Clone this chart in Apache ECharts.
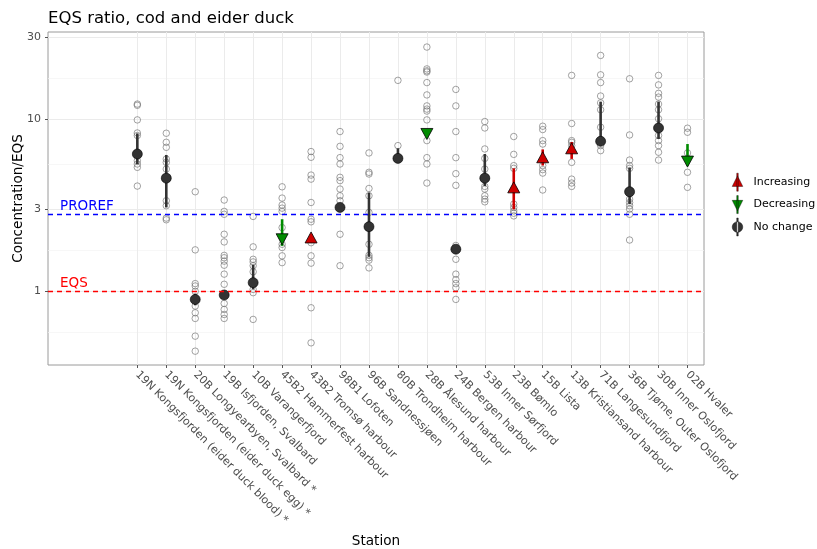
<!DOCTYPE html>
<html>
<head>
<meta charset="utf-8">
<script src="https://cdn.jsdelivr.net/npm/echarts@6/dist/echarts.min.js"></script>
<style>
  html, body { margin: 0; padding: 0; background: #ffffff; }
  #chart { width: 817px; height: 549px; }
</style>
</head>
<body>
<div id="chart"></div>
<script>
// Stations along the x axis (left to right)
const stations = [
  "19N Kongsfjorden (eider duck blood) *",
  "19N Kongsfjorden (eider duck egg) *",
  "20B Longyearbyen, Svalbard *",
  "19B Isfjorden, Svalbard",
  "10B Varangerfjord",
  "45B2 Hammerfest harbour",
  "43B2 Tromsø harbour",
  "98B1 Lofoten",
  "96B Sandnessjøen",
  "80B Trondheim harbour",
  "28B Ålesund harbour",
  "24B Bergen harbour",
  "53B Inner Sørfjord",
  "23B Bømlo",
  "15B Lista",
  "13B Kristiansand harbour",
  "71B Langesundfjord",
  "36B Tjøme, Outer Oslofjord",
  "30B Inner Oslofjord",
  "02B Hvaler"
];

// Individual concentration/EQS ratios per station (one list per station)
const sampleValues = [
  [12.3, 12.1, 9.95, 8.35, 8.07, 5.76, 5.51, 5.27, 4.10],
  [8.32, 7.37, 6.89, 5.89, 5.63, 5.15, 3.37, 3.15, 2.67, 2.61],
  [3.80, 1.744, 1.11, 1.075, 1.0, 0.822, 0.751, 0.696, 0.549, 0.449],
  [3.40, 2.92, 2.81, 2.15, 1.94, 1.62, 1.57, 1.50, 1.42, 1.26, 1.10, 0.851, 0.785, 0.734, 0.696],
  [2.73, 1.816, 1.537, 1.484, 1.41, 1.30, 1.027, 0.983, 0.687],
  [4.06, 3.49, 3.18, 3.05, 2.92, 2.35, 2.06, 1.88, 1.80, 1.61, 1.47],
  [6.51, 6.03, 4.75, 4.50, 3.29, 2.63, 2.54, 1.92, 1.61, 1.46, 0.803, 0.502],
  [8.51, 6.98, 6.00, 5.51, 4.61, 4.41, 3.94, 3.60, 3.37, 2.15, 1.41],
  [6.39, 4.93, 4.82, 3.97, 3.60, 2.88, 1.88, 1.62, 1.57, 1.52, 1.37],
  [16.9, 7.05],
  [26.4, 19.7, 19.2, 18.9, 16.4, 13.9, 12.0, 11.5, 11.2, 9.95, 7.54, 6.00, 5.51, 4.27],
  [14.96, 12.0, 8.51, 6.00, 4.84, 4.14, 1.85, 1.537, 1.26, 1.17, 1.11, 1.05, 0.898],
  [9.73, 8.93, 6.74, 5.94, 5.15, 4.08, 3.94, 3.60, 3.44, 3.32],
  [7.96, 6.27, 5.39, 5.20, 3.22, 3.08, 2.94, 2.85, 2.75],
  [9.14, 8.74, 7.54, 7.20, 5.39, 5.11, 4.88, 3.89],
  [18.06, 9.48, 7.54, 7.37, 7.05, 5.63, 4.50, 4.27, 4.08],
  [23.6, 18.2, 16.4, 13.7, 12.5, 11.4, 9.02, 7.05, 6.59],
  [17.26, 8.13, 5.81, 5.39, 5.20, 3.44, 3.29, 3.15, 3.01, 2.81, 1.99],
  [18.06, 15.9, 14.2, 13.5, 12.3, 11.4, 10.1, 8.07, 7.54, 7.05, 6.45, 5.81],
  [8.90, 8.43, 6.39, 4.93, 4.03]
];

// Summary value and its range per station, plus the trend class
const meanValues  = [6.30, 4.56, 0.898, 0.953, 1.124, 2.01, 2.06, 3.08, 2.38, 5.94, 8.24, 1.76, 4.56, 4.03, 6.03, 6.80, 7.47, 3.80, 8.93, 5.69];
const lowerValues = [5.50, 3.08, 0.83, 0.93, 1.03, 1.84, 1.95, 2.95, 1.59, 5.80, 8.00, 1.70, 4.10, 3.00, 5.40, 5.90, 7.05, 3.22, 7.70, 5.40];
const upperValues = [8.30, 6.22, 0.97, 0.98, 1.43, 2.63, 2.15, 3.20, 3.75, 6.80, 8.50, 1.82, 6.30, 5.20, 6.70, 7.40, 12.7, 5.26, 12.7, 7.20];
const trends = [
  "No change", "No change", "No change", "No change", "No change",
  "Decreasing", "Increasing", "No change", "No change", "No change",
  "Decreasing", "No change", "No change", "Increasing", "Increasing",
  "Increasing", "No change", "No change", "No change", "Decreasing"
];

// Axis breaks and reference levels
const yTickValues = [1, 3, 10, 30];
const yMinorValues = [0.5774, 1.732, 5.477, 17.32];
const prorefLevel = 2.8;
const eqsLevel = 1;

const FONT = "DejaVu Sans";
const trendColors = { "Increasing": "#CD0000", "Decreasing": "#008B00", "No change": "#333333" };
const trendSymbols = {
  "Increasing": "path://M5,0L10,9L0,9Z",
  "Decreasing": "path://M0,0L10,0L5,9Z",
  "No change": "circle"
};
const legendIcons = {
  "Increasing": "path://M4.3,0H5.7V17H4.3Z M5,2.5L10,12.5H0Z",
  "Decreasing": "path://M4.3,0H5.7V17H4.3Z M0,4.5H10L5,14.5Z",
  "No change": "path://M4.3,0H5.7V17H4.3Z M0,8.5A5,5 0 1,0 10,8.5A5,5 0 1,0 0,8.5Z"
};

const stationIdx = stations.map((_, i) => i);
const pointData = [];
sampleValues.forEach((vals, i) => vals.forEach(v => pointData.push([i, v])));

const meanData = trend => stationIdx.filter(i => trends[i] === trend).map(i => [i, meanValues[i]]);
const rangeData = trend => stationIdx.filter(i => trends[i] === trend).map(i => [i, lowerValues[i], upperValues[i]]);

function rangeSeries(trend) {
  return {
    type: "custom",
    name: trend + " range",
    data: rangeData(trend),
    encode: { x: 0, y: [1, 2] },
    z: 3,
    silent: true,
    renderItem(params, api) {
      const lo = api.coord([api.value(0), api.value(1)]);
      const hi = api.coord([api.value(0), api.value(2)]);
      return {
        type: "line",
        shape: { x1: lo[0], y1: lo[1], x2: hi[0], y2: hi[1] },
        style: { stroke: trendColors[trend], lineWidth: 2.6 }
      };
    }
  };
}

function meanSeries(trend) {
  const isCircle = trend === "No change";
  return {
    type: "scatter",
    name: trend,
    data: meanData(trend),
    symbol: trendSymbols[trend],
    symbolSize: isCircle ? 10 : [12, 11],
    z: 4,
    itemStyle: { color: trendColors[trend], borderColor: "#000000", borderWidth: isCircle ? 0.6 : 0.8, opacity: 1 }
  };
}

const chart = echarts.init(document.getElementById("chart"), null, { renderer: "canvas" });

chart.setOption({
  animation: false,
  backgroundColor: "#ffffff",
  title: {
    text: "EQS ratio, cod and eider duck",
    left: 43, top: 5,
    textStyle: { fontFamily: FONT, fontSize: 16.5, fontWeight: "normal", color: "#000000" }
  },
  grid: {
    left: 48, right: 113, top: 32, bottom: 184,
    outerBoundsMode: "none",
    containLabel: false,
    show: true, borderColor: "#9a9a9a", borderWidth: 1, backgroundColor: "transparent"
  },
  legend: {
    orient: "vertical",
    left: 727, top: 168,
    itemWidth: 14, itemHeight: 18, itemGap: 4,
    textStyle: { fontFamily: FONT, fontSize: 11, color: "#000000", padding: [0, 0, 0, 4] },
    data: ["Increasing", "Decreasing", "No change"].map(t => ({
      name: t, icon: legendIcons[t],
      itemStyle: { color: trendColors[t], borderColor: "#000000", borderWidth: 0.4 }
    }))
  },
  xAxis: {
    type: "value",
    min: -3.085, max: 19.57,
    name: "Station",
    nameLocation: "middle",
    nameGap: 169,
    nameTextStyle: { fontFamily: FONT, fontSize: 13.6, color: "#000000" },
    axisLine: { show: false, onZero: false },
    axisTick: { show: true, length: 3, lineStyle: { color: "#555555" }, customValues: stationIdx },
    axisLabel: {
      customValues: stationIdx,
      formatter: v => stations[Math.round(v)] || "",
      rotate: -45, margin: 8,
      fontFamily: FONT, fontSize: 11, color: "#4d4d4d"
    },
    splitLine: { show: true, lineStyle: { color: "#ebebeb", width: 1 } }
  },
  yAxis: [
    {
      type: "log",
      min: 0.373, max: 32.3,
      axisLine: { show: false, onZero: false },
      axisTick: { show: true, length: 3, lineStyle: { color: "#555555" }, customValues: yTickValues },
      axisLabel: { customValues: yTickValues, margin: 7, fontFamily: FONT, fontSize: 11, color: "#4d4d4d" },
      splitLine: { show: true, lineStyle: { color: "#ebebeb", width: 1 } },
      minorSplitLine: { show: false }
    },
    {
      // minor grid lines, also carries the axis title
      type: "log",
      min: 0.373, max: 32.3,
      position: "left",
      name: "Concentration/EQS",
      nameLocation: "middle",
      nameGap: 23,
      nameRotate: 90,
      nameTextStyle: { fontFamily: FONT, fontSize: 13.6, color: "#000000" },
      axisLine: { show: false, onZero: false },
      axisTick: { show: false, customValues: yMinorValues },
      axisLabel: { show: false, customValues: yMinorValues },
      splitLine: { show: true, lineStyle: { color: "#f3f3f3", width: 0.7 } }
    }
  ],
  series: [
    {
      type: "scatter",
      name: "Samples",
      data: pointData,
      symbol: "circle",
      symbolSize: 6.5,
      z: 2,
      itemStyle: { color: "rgba(255,255,255,0)", borderColor: "rgba(110,110,110,0.8)", borderWidth: 1 },
      markLine: {
        silent: true,
        symbol: "none",
        data: [
          {
            yAxis: prorefLevel,
            lineStyle: { color: "#0000ff", type: [5, 4], width: 1.3 },
            label: { formatter: "PROREF", color: "#0000ff", position: "insideStartTop", distance: [12, 1], fontFamily: FONT, fontSize: 13.5 }
          },
          {
            yAxis: eqsLevel,
            lineStyle: { color: "#ff0000", type: [5, 4], width: 1.3 },
            label: { formatter: "EQS", color: "#ff0000", position: "insideStartTop", distance: [12, 1], fontFamily: FONT, fontSize: 13.5 }
          }
        ]
      }
    },
    rangeSeries("No change"),
    rangeSeries("Increasing"),
    rangeSeries("Decreasing"),
    meanSeries("No change"),
    meanSeries("Increasing"),
    meanSeries("Decreasing")
  ]
});
</script>
</body>
</html>
